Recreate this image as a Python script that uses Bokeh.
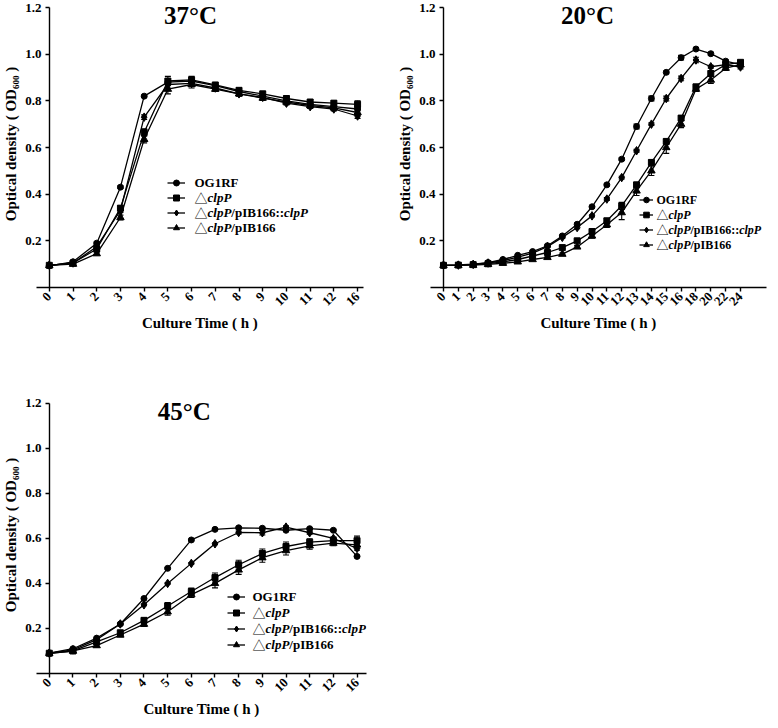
import math
from bokeh.plotting import figure
from bokeh.layouts import column, row
from bokeh.models import (Range1d, FixedTicker, PrintfTickFormatter, ColumnDataSource,
                          Whisker, TeeHead, Legend, LegendItem, Label, LinearAxis)
from bokeh.core.properties import value
from bokeh.embed import file_html
from bokeh.resources import INLINE

# ---------------- data ----------------
series_labels = ["OG1RF", "ΔclpP", "ΔclpP/pIB166::clpP", "ΔclpP/pIB166"]
series_markers = ["circle", "square", "diamond", "triangle"]

# 37 °C
times_37 = ["0", "1", "2", "3", "4", "5", "6", "7", "8", "9", "10", "11", "12", "16"]
og1rf_37 = [0.093, 0.11, 0.19, 0.43, 0.82, 0.88, 0.885, 0.865, 0.84, 0.82, 0.80, 0.785, 0.775, 0.765]
clpp_37 = [0.095, 0.105, 0.165, 0.34, 0.665, 0.885, 0.89, 0.868, 0.845, 0.83, 0.81, 0.795, 0.79, 0.785]
comp_37 = [0.095, 0.105, 0.175, 0.33, 0.73, 0.87, 0.875, 0.855, 0.83, 0.815, 0.79, 0.775, 0.765, 0.735]
vec_37 = [0.095, 0.10, 0.145, 0.30, 0.635, 0.85, 0.87, 0.85, 0.83, 0.812, 0.795, 0.78, 0.77, 0.75]
og1rf_37_sd = [0.003, 0.004, 0.005, 0.006, 0.005, 0.010, 0.008, 0.006, 0.006, 0.006, 0.006, 0.006, 0.006, 0.008]
clpp_37_sd = [0.003, 0.004, 0.008, 0.010, 0.015, 0.020, 0.015, 0.010, 0.010, 0.010, 0.010, 0.010, 0.010, 0.015]
comp_37_sd = [0.003, 0.004, 0.006, 0.008, 0.010, 0.015, 0.012, 0.010, 0.008, 0.008, 0.008, 0.008, 0.008, 0.010]
vec_37_sd = [0.003, 0.004, 0.006, 0.010, 0.015, 0.020, 0.015, 0.010, 0.010, 0.010, 0.010, 0.010, 0.010, 0.012]

# 20 °C
times_20 = ["0", "1", "2", "3", "4", "5", "6", "7", "8", "9", "10", "11", "12", "13", "14",
            "15", "16", "18", "20", "22", "24"]
og1rf_20 = [0.095, 0.097, 0.10, 0.107, 0.12, 0.138, 0.154, 0.179, 0.221, 0.271, 0.346, 0.44,
            0.55, 0.69, 0.81, 0.922, 0.985, 1.022, 1.002, 0.97, 0.955]
clpp_20 = [0.095, 0.096, 0.098, 0.102, 0.11, 0.12, 0.135, 0.15, 0.171, 0.20, 0.24, 0.286,
           0.35, 0.44, 0.536, 0.626, 0.726, 0.86, 0.917, 0.955, 0.965]
comp_20 = [0.095, 0.096, 0.099, 0.105, 0.115, 0.13, 0.147, 0.175, 0.215, 0.257, 0.307, 0.379,
           0.471, 0.586, 0.70, 0.81, 0.896, 0.975, 0.946, 0.955, 0.945]
vec_20 = [0.095, 0.095, 0.096, 0.099, 0.104, 0.11, 0.12, 0.129, 0.143, 0.174, 0.221, 0.269,
          0.321, 0.414, 0.50, 0.60, 0.70, 0.85, 0.889, 0.94, 0.955]
og1rf_20_sd = [0.003, 0.003, 0.003, 0.003, 0.003, 0.003, 0.004, 0.004, 0.004, 0.005, 0.005, 0.005,
               0.006, 0.010, 0.010, 0.006, 0.010, 0.006, 0.006, 0.006, 0.006]
clpp_20_sd = [0.003, 0.003, 0.003, 0.003, 0.003, 0.004, 0.004, 0.004, 0.005, 0.006, 0.008, 0.010,
              0.015, 0.010, 0.010, 0.010, 0.010, 0.010, 0.012, 0.008, 0.008]
comp_20_sd = [0.003, 0.003, 0.003, 0.003, 0.003, 0.003, 0.004, 0.004, 0.005, 0.005, 0.005, 0.006,
              0.006, 0.006, 0.006, 0.010, 0.010, 0.012, 0.006, 0.008, 0.008]
vec_20_sd = [0.003, 0.003, 0.003, 0.003, 0.003, 0.004, 0.004, 0.004, 0.005, 0.006, 0.010, 0.012,
             0.030, 0.020, 0.020, 0.025, 0.015, 0.010, 0.015, 0.010, 0.008]

# 45 °C
times_45 = ["0", "1", "2", "3", "4", "5", "6", "7", "8", "9", "10", "11", "12", "16"]
og1rf_45 = [0.09, 0.11, 0.157, 0.22, 0.333, 0.467, 0.593, 0.64, 0.647, 0.645, 0.636, 0.643, 0.636, 0.52]
clpp_45 = [0.09, 0.10, 0.14, 0.181, 0.236, 0.30, 0.364, 0.426, 0.483, 0.533, 0.564, 0.583, 0.59, 0.59]
comp_45 = [0.09, 0.105, 0.15, 0.22, 0.305, 0.40, 0.489, 0.576, 0.626, 0.625, 0.65, 0.625, 0.60, 0.555]
vec_45 = [0.09, 0.10, 0.124, 0.171, 0.219, 0.274, 0.35, 0.40, 0.46, 0.514, 0.546, 0.567, 0.579, 0.571]
og1rf_45_sd = [0.003, 0.004, 0.004, 0.004, 0.004, 0.004, 0.004, 0.004, 0.004, 0.004, 0.004, 0.004, 0.004, 0.004]
clpp_45_sd = [0.003, 0.004, 0.006, 0.008, 0.010, 0.015, 0.015, 0.020, 0.020, 0.020, 0.020, 0.015, 0.015, 0.020]
comp_45_sd = [0.003, 0.004, 0.004, 0.004, 0.004, 0.004, 0.004, 0.004, 0.006, 0.010, 0.006, 0.006, 0.006, 0.008]
vec_45_sd = [0.003, 0.004, 0.006, 0.008, 0.010, 0.015, 0.012, 0.020, 0.020, 0.020, 0.020, 0.015, 0.012, 0.015]

y_ticks = [0.2, 0.4, 0.6, 0.8, 1.0, 1.2]
Y_AXIS_MAX = 1.2
Y_VIEW_MAX = 1.23   # small headroom above the axis end for the panel title

# ---------------- style ----------------
SERIF = "Liberation Serif"
CJK = "Noto Sans CJK SC"
marker_sizes = {"circle": 6, "square": 6, "diamond": 8.5, "triangle": 7.5}

# legend text pieces: (text, font, style)
legend_pieces = [
    [("OG1RF", SERIF, "bold")],
    [("△", CJK, "normal"), ("clpP", SERIF, "bold italic")],
    [("△", CJK, "normal"), ("clpP", SERIF, "bold italic"), ("/pIB166::", SERIF, "bold"),
     ("clpP", SERIF, "bold italic")],
    [("△", CJK, "normal"), ("clpP", SERIF, "bold italic"), ("/pIB166", SERIF, "bold")],
]
# Times (Liberation Serif) advance widths, per 1000 em
W_BOLD = {"O": 778, "G": 778, "1": 500, "R": 722, "F": 611, "/": 278, "p": 556, "I": 389,
          "B": 667, "6": 500, ":": 333}
W_BI = {"c": 444, "l": 278, "p": 500, "P": 611}


def piece_width(text, font, style, fs):
    if font == CJK:
        return fs * 1.0
    table = W_BI if "italic" in style else W_BOLD
    return sum(table.get(ch, 500) for ch in text) * fs / 1000.0


def style_axis(ax):
    ax.axis_line_width = 1.4
    ax.axis_line_color = "black"
    ax.major_tick_line_width = 1.4
    ax.major_tick_line_color = "black"
    ax.major_tick_out = 4
    ax.major_tick_in = 0
    ax.minor_tick_line_color = None
    ax.major_label_text_font = SERIF
    ax.major_label_text_font_style = "bold"
    ax.major_label_text_font_size = "13px"
    ax.major_label_text_color = "black"
    ax.axis_label_text_font = SERIF
    ax.axis_label_text_font_style = "bold"
    ax.axis_label_text_font_size = "15px"
    ax.axis_label_text_color = "black"


def build(times, vals, sds, title, title_x, W, H, borders, xr, label_standoff,
          leg_xy, leg_gw, leg_sp, leg_text_x, leg_fs):
    n = len(times)
    xs = list(range(n))
    p = figure(width=W, height=H, output_backend="svg", toolbar_location=None,
               x_range=Range1d(*xr), y_range=Range1d(0, Y_VIEW_MAX),
               min_border_left=borders[0], min_border_right=borders[1],
               min_border_top=borders[2], min_border_bottom=borders[3])
    p.outline_line_color = None
    p.grid.visible = False
    p.background_fill_color = "white"
    p.border_fill_color = "white"

    # x axis
    xa = p.xaxis[0]
    style_axis(xa)
    xa.ticker = FixedTicker(ticks=xs)
    xa.major_label_overrides = {i: t for i, t in enumerate(times)}
    xa.major_label_orientation = math.pi / 4
    xa.major_label_standoff = 3
    xa.axis_label = "Culture Time ( h )"
    xa.axis_label_standoff = 3

    # y axis labels (at frame edge, line hidden)
    yl = p.yaxis[0]
    style_axis(yl)
    yl.ticker = FixedTicker(ticks=y_ticks)
    yl.formatter = PrintfTickFormatter(format="%.1f")
    yl.axis_line_color = None
    yl.major_tick_line_color = None
    yl.major_tick_out = 0
    yl.major_label_standoff = label_standoff
    yl.axis_label = "Optical density ( OD₆₀₀ )"
    yl.axis_label_standoff = 3

    # y axis line + ticks at x = 0
    ya = LinearAxis(fixed_location=0, ticker=FixedTicker(ticks=y_ticks), bounds=(0, Y_AXIS_MAX))
    style_axis(ya)
    ya.major_label_text_color = None
    p.add_layout(ya, "left")

    items = []
    for k in range(4):
        v = vals[k]
        e = sds[k]
        src = ColumnDataSource(dict(x=xs, y=v,
                                    upper=[a + b for a, b in zip(v, e)],
                                    lower=[a - b for a, b in zip(v, e)]))
        wh = Whisker(base="x", upper="upper", lower="lower", source=src,
                     line_color="black", line_width=1.1,
                     upper_head=TeeHead(size=6, line_color="black", line_width=1.1),
                     lower_head=TeeHead(size=6, line_color="black", line_width=1.1))
        p.add_layout(wh)
        lr = p.line("x", "y", source=src, line_color="black", line_width=1.3)
        m = series_markers[k]
        sr = p.scatter("x", "y", source=src, marker=m, size=marker_sizes[m],
                       fill_color="black", line_color="black")
        items.append(LegendItem(label=value(""), renderers=[lr, sr]))

    leg = Legend(items=items, location=leg_xy, orientation="vertical",
                 glyph_width=leg_gw, glyph_height=15, label_height=15, label_width=0,
                 label_standoff=0, spacing=leg_sp, padding=0, margin=0,
                 border_line_color=None, background_fill_alpha=0,
                 label_text_font_size="1px")
    p.add_layout(leg)

    total_h = 4 * 15 + 3 * leg_sp
    for k, pieces in enumerate(legend_pieces):
        yc = leg_xy[1] + total_h - 7.5 - k * (15 + leg_sp)
        off = 0.0
        for text, font, style in pieces:
            p.add_layout(Label(x=leg_text_x, y=yc, x_units="screen", y_units="screen",
                               x_offset=off, text=text, text_font=font,
                               text_font_style=style, text_font_size=f"{leg_fs}px",
                               text_color="black", text_baseline="middle", text_align="left"))
            off += piece_width(text, font, style, leg_fs)

    p.add_layout(Label(x=title_x, y=Y_AXIS_MAX, y_offset=-8, text=title, text_font=SERIF,
                       text_font_style="bold", text_font_size="25px", text_color="black",
                       text_align="center", text_baseline="middle"))
    return p


p1 = build(times_37, [og1rf_37, clpp_37, comp_37, vec_37],
           [og1rf_37_sd, clpp_37_sd, comp_37_sd, vec_37_sd],
           "37°C", 5.96, 390, 396, (32, 27, 0, 109), (-0.54, 13.25), -5,
           (131, 52.5), 18, 0, 158, 13)
p2 = build(times_20, [og1rf_20, clpp_20, comp_20, vec_20],
           [og1rf_20_sd, clpp_20_sd, comp_20_sd, vec_20_sd],
           "20°C", 9.7, 380, 396, (40, 4, 0, 109), (-0.875, 21.75), -5,
           (209, 35.5), 14, 0, 226, 12)
p3 = build(times_45, [og1rf_45, clpp_45, comp_45, vec_45],
           [og1rf_45_sd, clpp_45_sd, comp_45_sd, vec_45_sd],
           "45°C", 5.7, 390, 324, (32, 24, 0, 38), (-0.54, 13.4), -5,
           (191, 21.5), 18, 1, 216, 13)

layout = column(row(p1, p2), p3)
open("out.html", "w").write(file_html(layout, INLINE))
